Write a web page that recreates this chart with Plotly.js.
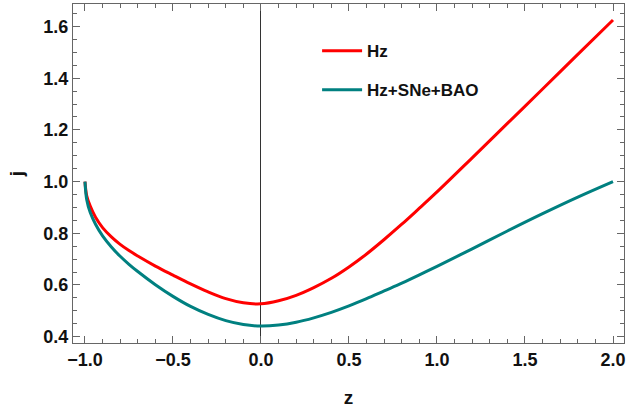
<!DOCTYPE html>
<html>
<head>
<meta charset="utf-8">
<script src="https://cdn.plot.ly/plotly-3.0.1.min.js"></script>
<style>
  html, body { margin: 0; padding: 0; background: #fff; }
  #plot { width: 628px; height: 408px; }
</style>
</head>
<body>
<div id="plot"></div>
<script>
// Jerk parameter j(z) for the two data combinations
const zHz = [-1.0, -0.99, -0.97, -0.94, -0.9, -0.85, -0.8, -0.75, -0.7, -0.6, -0.5, -0.4, -0.3, -0.2, -0.1, 0.0,
             0.1, 0.2, 0.3, 0.4, 0.5, 0.6, 0.7, 0.8, 0.9, 1.0, 1.2, 1.4, 1.6, 1.8, 2.0];
const jHz = [1.000, 0.945, 0.905, 0.862, 0.822, 0.786, 0.757, 0.733, 0.712, 0.673, 0.638, 0.604, 0.573, 0.547, 0.531, 0.527,
             0.539, 0.560, 0.590, 0.626, 0.670, 0.720, 0.776, 0.835, 0.897, 0.960, 1.092, 1.225, 1.358, 1.492, 1.625];

const zAll = [-1.0, -0.99, -0.97, -0.94, -0.9, -0.85, -0.8, -0.75, -0.7, -0.6, -0.5, -0.4, -0.3, -0.2, -0.1, 0.0,
              0.1, 0.2, 0.3, 0.4, 0.5, 0.6, 0.7, 0.8, 0.9, 1.0, 1.2, 1.4, 1.6, 1.8, 2.0];
const jAll = [1.000, 0.930, 0.880, 0.835, 0.790, 0.747, 0.711, 0.680, 0.652, 0.601, 0.556, 0.517, 0.486, 0.462, 0.447, 0.441,
              0.445, 0.456, 0.473, 0.494, 0.519, 0.547, 0.577, 0.607, 0.639, 0.672, 0.740, 0.809, 0.876, 0.940, 1.000];

const seriesNames = ["Hz", "Hz+SNe+BAO"];
const seriesColors = ["#ff0000", "#008080"];

const xTickVals = [-1.0, -0.5, 0.0, 0.5, 1.0, 1.5, 2.0];
const yTickVals = [0.4, 0.6, 0.8, 1.0, 1.2, 1.4, 1.6];
// one decimal place, typographic minus sign
const fmt = v => (v < 0 ? "\u2212" : "") + Math.abs(v).toFixed(1);

const fontFamily = "Liberation Sans, Arial, sans-serif";
const tickFont = { family: fontFamily, size: 18, color: "#111", weight: "bold" };
const frameColor = "#666";

const traces = [
  { x: zHz, y: jHz, name: seriesNames[0], legendgroup: "a" },
  { x: zAll, y: jAll, name: seriesNames[1], legendgroup: "b" }
].map((t, i) => Object.assign(t, {
  type: "scatter",
  mode: "lines",
  line: { color: seriesColors[i], width: 3, shape: "spline", smoothing: 1 }
}));

const axisCommon = {
  showgrid: false,
  showline: true,
  linecolor: frameColor,
  linewidth: 1,
  mirror: "allticks",
  ticks: "inside",
  ticklen: 7,
  tickwidth: 1,
  tickcolor: frameColor,
  tickfont: tickFont,
  tickmode: "array"
};

const layout = {
  width: 628,
  height: 408,
  margin: { l: 73, r: 4, t: 4, b: 65 },
  showlegend: true,
  legend: {
    x: 0.443, y: 0.914, xanchor: "left", yanchor: "top",
    bgcolor: "rgba(0,0,0,0)",
    font: { family: fontFamily, size: 17, color: "#111", weight: "bold" },
    traceorder: "grouped",
    tracegroupgap: 14,
    itemwidth: 40
  },
  xaxis: Object.assign({}, axisCommon, {
    range: [-1.068, 2.0625],
    tickvals: xTickVals,
    ticktext: xTickVals.map(fmt),
    minor: { dtick: 0.1, ticks: "inside", ticklen: 4, tickcolor: frameColor, tickwidth: 1 },
    zeroline: true,
    zerolinecolor: "#333",
    zerolinewidth: 1,
    title: { text: "z", font: { family: fontFamily, size: 19, color: "#111", weight: "bold" }, standoff: 22 }
  }),
  yaxis: Object.assign({}, axisCommon, {
    range: [0.3756, 1.687],
    tickvals: yTickVals,
    ticktext: yTickVals.map(fmt),
    minor: { dtick: 0.05, tick0: 0.4, ticks: "inside", ticklen: 4, tickcolor: frameColor, tickwidth: 1 },
    zeroline: false,
    title: { text: "j", font: { family: fontFamily, size: 19, color: "#111", weight: "bold" }, standoff: 14 }
  })
};

Plotly.newPlot("plot", traces, layout, { displayModeBar: false, staticPlot: true });
</script>
</body>
</html>
